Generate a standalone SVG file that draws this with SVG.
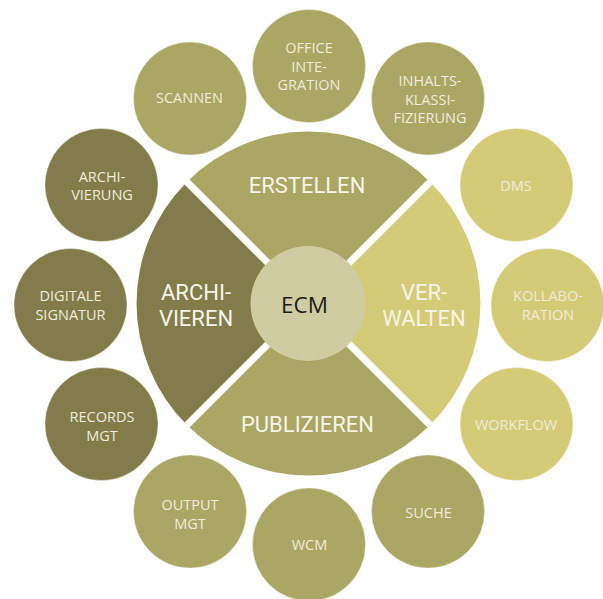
<svg xmlns="http://www.w3.org/2000/svg" width="603" height="599" viewBox="0 0 603 599">
<style>
  text { font-family: "Open Sans", "Liberation Sans", sans-serif; text-anchor: middle; }
  .sm { font-size: 14.5px; fill: #efecdc; }
  .big { font-family: Roboto, "Open Sans", sans-serif; font-size: 22px; fill: #f6f4e8; }
  .ecm { font-size: 22.5px; fill: #1c1c14; }
  .c { stroke: #ffffff; stroke-opacity: 0.35; stroke-width: 1; }
  .olive { fill: #aaa663; }
  .dark { fill: #817c4a; }
  .light { fill: #d4cb76; }
  .sep { stroke: #ffffff; stroke-width: 7; }
</style>
<rect width="603" height="599" fill="#ffffff"/>

<g id="segments">
  <g id="erstellen">
    <path class="olive" d="M308.5,303.5 L186.9,181.9 A172,172 0 0 1 430.1,181.9 Z"/>
    <text class="big" x="307" y="193">ERSTELLEN</text>
  </g>
  <g id="verwalten">
    <path class="light" d="M308.5,303.5 L430.1,181.9 A172,172 0 0 1 430.1,425.1 Z"/>
    <text class="big" x="424" y="299.5">VER-<tspan x="424" dy="26.5">WALTEN</tspan></text>
  </g>
  <g id="publizieren">
    <path class="olive" d="M308.5,303.5 L430.1,425.1 A172,172 0 0 1 186.9,425.1 Z"/>
    <text class="big" x="307.5" y="431.5">PUBLIZIEREN</text>
  </g>
  <g id="archivieren">
    <path class="dark" d="M308.5,303.5 L186.9,425.1 A172,172 0 0 1 186.9,181.9 Z"/>
    <text class="big" x="196" y="299.5">ARCHI-<tspan x="196" dy="26.5">VIEREN</tspan></text>
  </g>
  <g id="separators">
    <line class="sep" x1="183" y1="178" x2="434" y2="429"/>
    <line class="sep" x1="434" y1="178" x2="183" y2="429"/>
  </g>
</g>

<g id="ecm">
  <circle cx="308" cy="303.5" r="57.5" fill="#cfcca1"/>
  <text class="ecm" x="304.5" y="312.5">ECM</text>
</g>

<g id="office">
  <circle class="c olive" cx="309" cy="66" r="56.5"/>
  <text class="sm" x="309" y="53">OFFICE<tspan x="309" dy="18.5">INTE-</tspan><tspan x="309" dy="18.5">GRATION</tspan></text>
</g>
<g id="scannen">
  <circle class="c olive" cx="190" cy="98.5" r="56.5"/>
  <text class="sm" x="189.5" y="103">SCANNEN</text>
</g>
<g id="inhalts">
  <circle class="c olive" cx="428" cy="98.5" r="56.5"/>
  <text class="sm" x="430" y="86">INHALTS-<tspan x="430" dy="18.5">KLASSI-</tspan><tspan x="430" dy="18.5">FIZIERUNG</tspan></text>
</g>
<g id="dms">
  <circle class="c light" cx="516.5" cy="185" r="56.5"/>
  <text class="sm" x="516" y="191">DMS</text>
</g>
<g id="kollaboration">
  <circle class="c light" cx="547.5" cy="305" r="56.5"/>
  <text class="sm" x="548" y="301">KOLLABO-<tspan x="548" dy="18.5">RATION</tspan></text>
</g>
<g id="workflow">
  <circle class="c light" cx="516.5" cy="424" r="56.5"/>
  <text class="sm" x="516" y="429.5">WORKFLOW</text>
</g>
<g id="suche">
  <circle class="c olive" cx="428" cy="511.5" r="56.5"/>
  <text class="sm" x="428.5" y="517.5">SUCHE</text>
</g>
<g id="wcm">
  <circle class="c olive" cx="309" cy="544.5" r="56.5"/>
  <text class="sm" x="309.5" y="549.5">WCM</text>
</g>
<g id="output">
  <circle class="c olive" cx="190" cy="511.5" r="56.5"/>
  <text class="sm" x="190" y="510">OUTPUT<tspan x="190" dy="18.5">MGT</tspan></text>
</g>
<g id="records">
  <circle class="c dark" cx="101.5" cy="424" r="56.5"/>
  <text class="sm" x="102" y="422">RECORDS<tspan x="102" dy="19">MGT</tspan></text>
</g>
<g id="signatur">
  <circle class="c dark" cx="70.5" cy="305" r="56.5"/>
  <text class="sm" x="70.5" y="301">DIGITALE<tspan x="70.5" dy="18.5">SIGNATUR</tspan></text>
</g>
<g id="archivierung">
  <circle class="c dark" cx="101.5" cy="185" r="56.5"/>
  <text class="sm" x="102" y="182">ARCHI-<tspan x="102" dy="18">VIERUNG</tspan></text>
</g>
</svg>
